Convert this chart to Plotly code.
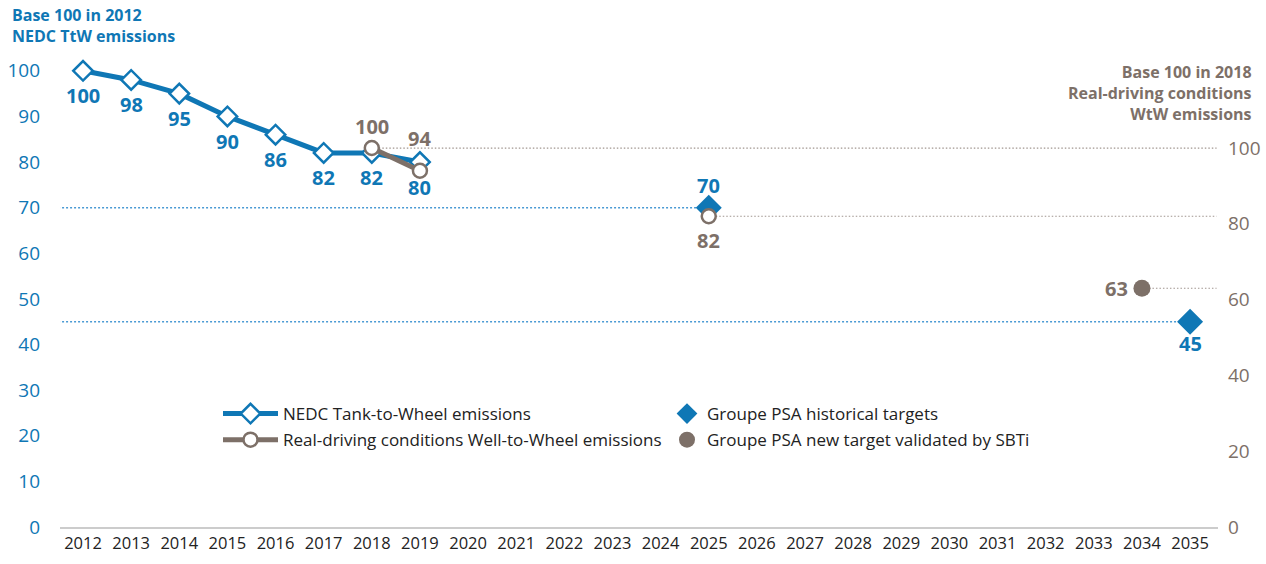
import plotly.graph_objects as go

# ---------------- data ----------------
years = list(range(2012, 2036))
nedc_years = [2012, 2013, 2014, 2015, 2016, 2017, 2018, 2019]
nedc_values = [100, 98, 95, 90, 86, 82, 82, 80]
wtw_years = [2018, 2019]
wtw_values = [100, 94]
hist_target_years = [2025, 2035]
hist_target_values = [70, 45]
wtw_target_2025_year = [2025]
wtw_target_2025_value = [82]
sbti_years = [2034]
sbti_values = [63]
left_ticks = list(range(0, 101, 10))
right_ticks = list(range(0, 101, 20))
left_title = ["Base 100 in 2012", "NEDC TtW emissions"]
right_title = ["Base 100 in 2018", "Real-driving conditions", "WtW emissions"]

BLUE = "#0f77b5"
BLUE_DOT = "#4a9ad4"
GRAY = "#7d7068"
GRAY_DOT = "#a0958f"
FONT = "Open Sans"
X_RANGE = [2011.522, 2035.58]

# plot area geometry (px)
PLOT_LEFT, PLOT_RIGHT = 60, 1218
PLOT_TOP, PLOT_BOTTOM = 48, 527


def py_to_paper(py):
    return (PLOT_BOTTOM - py) / (PLOT_BOTTOM - PLOT_TOP)


def px_to_paper(px):
    return (px - PLOT_LEFT) / (PLOT_RIGHT - PLOT_LEFT)


fig = go.Figure()

fig.add_trace(go.Scatter(
    x=nedc_years, y=nedc_values, mode="lines+markers",
    name="NEDC Tank-to-Wheel emissions",
    line=dict(color=BLUE, width=5),
    marker=dict(symbol="diamond", size=15, color="white", line=dict(color=BLUE, width=2.5)),
    legend="legend", legendgroup="a", cliponaxis=False,
))
fig.add_trace(go.Scatter(
    x=wtw_years, y=wtw_values, mode="lines+markers", yaxis="y2",
    name="Real-driving conditions Well-to-Wheel emissions",
    line=dict(color=GRAY, width=5),
    marker=dict(symbol="circle", size=14, color="white", line=dict(color=GRAY, width=2.5)),
    legend="legend", legendgroup="b", cliponaxis=False,
))
fig.add_trace(go.Scatter(
    x=wtw_target_2025_year, y=wtw_target_2025_value, mode="markers", yaxis="y2",
    showlegend=False,
    marker=dict(symbol="circle", size=14, color="white", line=dict(color=GRAY, width=2.5)),
    cliponaxis=False,
))
fig.add_trace(go.Scatter(
    x=hist_target_years, y=hist_target_values, mode="markers",
    name="Groupe PSA historical targets",
    marker=dict(symbol="diamond", size=20, color=BLUE),
    legend="legend2", legendgroup="c", cliponaxis=False,
))
fig.add_trace(go.Scatter(
    x=sbti_years, y=sbti_values, mode="markers", yaxis="y2",
    name="Groupe PSA new target validated by SBTi",
    marker=dict(symbol="circle", size=17, color=GRAY),
    legend="legend2", legendgroup="d", cliponaxis=False,
))

# ---------------- dotted guide lines ----------------
for yr, v in zip(hist_target_years, hist_target_values):
    fig.add_shape(type="line", xref="x", yref="y", x0=X_RANGE[0] - 0.04, x1=yr, y0=v, y1=v,
                  line=dict(color=BLUE_DOT, width=1.5, dash="2px,2px"), layer="below")

gray_guides = [(wtw_years[0], wtw_values[0]),
               (wtw_target_2025_year[0], wtw_target_2025_value[0]),
               (sbti_years[0], sbti_values[0])]
for yr, v in gray_guides:
    fig.add_shape(type="line", xref="x", yref="y2", x0=yr, x1=2035.55, y0=v, y1=v,
                  line=dict(color=GRAY_DOT, width=1.2, dash="1.5px,2px"), layer="below")

# ---------------- value labels ----------------
lab_font_b = dict(family=FONT, size=20, color=BLUE, weight="bold")
lab_font_g = dict(family=FONT, size=20, color=GRAY, weight="bold")
for x, v in zip(nedc_years, nedc_values):
    fig.add_annotation(x=x, y=v, yref="y", text=str(v), showarrow=False,
                       yshift=-25, font=lab_font_b)
for x, v, ys in zip(wtw_years, wtw_values, [22, 32]):
    fig.add_annotation(x=x, y=v, yref="y2", text=str(v), showarrow=False,
                       yshift=ys, font=lab_font_g)
for x, v, ys in zip(hist_target_years, hist_target_values, [22, -22]):
    fig.add_annotation(x=x, y=v, yref="y", text=str(v), showarrow=False,
                       yshift=ys, font=lab_font_b)
for x, v in zip(wtw_target_2025_year, wtw_target_2025_value):
    fig.add_annotation(x=x, y=v, yref="y2", text=str(v), showarrow=False,
                       yshift=-24, font=lab_font_g)
for x, v in zip(sbti_years, sbti_values):
    fig.add_annotation(x=x, y=v, yref="y2", text=str(v), showarrow=False,
                       xanchor="right", xshift=-12, font=lab_font_g)

# ---------------- axis titles ----------------
fig.add_annotation(xref="paper", yref="paper", x=px_to_paper(10), y=py_to_paper(26),
                   xanchor="left", yanchor="middle", text="<br>".join(left_title),
                   showarrow=False, align="left",
                   font=dict(family=FONT, size=16, color=BLUE, weight="bold"))
fig.add_annotation(xref="paper", yref="paper", x=px_to_paper(1254), y=py_to_paper(93),
                   xanchor="right", yanchor="middle", text="<br>".join(right_title),
                   showarrow=False, align="right",
                   font=dict(family=FONT, size=16, color=GRAY, weight="bold"))

fig.update_layout(
    width=1266, height=564,
    margin=dict(l=PLOT_LEFT, r=1266 - PLOT_RIGHT, t=PLOT_TOP, b=564 - PLOT_BOTTOM,
                autoexpand=False),
    paper_bgcolor="white", plot_bgcolor="white",
    font=dict(family=FONT, color="#222222"),
    xaxis=dict(range=X_RANGE, tickmode="array", tickvals=years, automargin=False,
               ticktext=[str(y) for y in years], showgrid=False, zeroline=False,
               showline=True, linecolor="#cccccc", linewidth=2, ticks="",
               tickfont=dict(family=FONT, size=16.5, color="#222222")),
    yaxis=dict(range=[0, 105], tickmode="array", tickvals=left_ticks, showgrid=False,
               automargin=False,
               zeroline=False, showline=False, ticks="", ticklabelstandoff=19,
               tickfont=dict(family=FONT, size=19, color=BLUE)),
    yaxis2=dict(range=[0, 126.4], overlaying="y", side="right", tickmode="array",
                automargin=False,
                tickvals=right_ticks, showgrid=False, zeroline=False, showline=False,
                ticks="", ticklabelstandoff=9,
                tickfont=dict(family=FONT, size=19, color=GRAY)),
    legend=dict(x=px_to_paper(218), y=py_to_paper(396), xanchor="left", yanchor="top",
                orientation="v",
                font=dict(family=FONT, size=17, color="#222222"), tracegroupgap=1,
                itemwidth=55, bgcolor="rgba(0,0,0,0)"),
    legend2=dict(x=px_to_paper(667), y=py_to_paper(396), xanchor="left", yanchor="top",
                 orientation="v",
                 font=dict(family=FONT, size=17, color="#222222"), tracegroupgap=1,
                 bgcolor="rgba(0,0,0,0)"),
)

fig.write_html("out.html", config={"displayModeBar": False},
               post_script="document.body.style.margin='0';")
